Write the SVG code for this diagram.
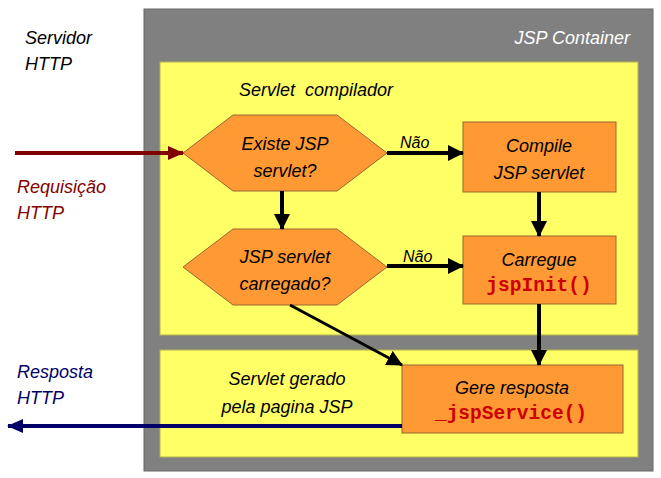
<svg xmlns="http://www.w3.org/2000/svg" width="661" height="478" viewBox="0 0 661 478">
<defs>
<style>
text{font-family:"Liberation Sans",Arial,sans-serif;font-style:italic;font-size:18px;fill:#000}
.mono{font-family:"Liberation Mono","Courier New",monospace;font-style:normal;font-weight:bold;font-size:19.5px;fill:#CC0000}
.c{text-anchor:middle}
.yel{fill:#FFFF66;stroke:#B3B34D;stroke-width:1}
.org{fill:#FF9933;stroke:#996633;stroke-width:1}
.k{stroke:#000;stroke-width:4;fill:none}
</style>
<marker id="ar" markerWidth="16" markerHeight="14" refX="15" refY="7" orient="auto" markerUnits="userSpaceOnUse"><path d="M0,0 L16,7 L0,14 Z" fill="#800000"/></marker>
<marker id="ab" markerWidth="16" markerHeight="14" refX="15" refY="7" orient="auto" markerUnits="userSpaceOnUse"><path d="M0,0 L16,7 L0,14 Z" fill="#000066"/></marker>
<marker id="a" markerWidth="16" markerHeight="16" refX="15" refY="8" orient="auto" markerUnits="userSpaceOnUse"><path d="M0,0 L16,8 L0,16 Z" fill="#000"/></marker>
</defs>
<g id="container">
<rect x="144" y="9" width="509" height="462" fill="#808080" stroke="#666" stroke-width="1"/>
<text x="630" y="44" text-anchor="end" style="fill:#fff">JSP Container</text>
</g>
<g id="compilador">
<rect class="yel" x="160" y="62" width="478" height="273"/>
<text x="239" y="96" xml:space="preserve" style="white-space:pre">Servlet  compilador</text>
</g>
<g id="gerado">
<rect class="yel" x="160" y="350" width="478" height="107"/>
<text class="c" x="287" y="385">Servlet gerado</text>
<text class="c" x="287" y="413">pela pagina JSP</text>
</g>
<g id="servidor">
<text x="25" y="44">Servidor</text>
<text x="25" y="70">HTTP</text>
</g>
<g id="existe">
<polygon class="org" points="183,153 233,115 337,115 387,153 337,191 233,191"/>
<text class="c" x="285" y="150">Existe JSP</text>
<text class="c" x="285" y="177">servlet?</text>
</g>
<g id="carregado">
<polygon class="org" points="183,267 233,229 337,229 387,267 337,305 233,305"/>
<text class="c" x="285" y="263">JSP servlet</text>
<text class="c" x="285" y="290">carregado?</text>
</g>
<g id="compile">
<rect class="org" x="463" y="122" width="153" height="70"/>
<text class="c" x="539" y="152">Compile</text>
<text class="c" x="539" y="179">JSP servlet</text>
</g>
<g id="carregue">
<rect class="org" x="463" y="236" width="153" height="68"/>
<text class="c" x="539" y="266">Carregue</text>
<text class="c mono" x="539" y="291">jspInit()</text>
</g>
<g id="gere">
<rect class="org" x="402" y="365" width="221" height="68"/>
<text class="c" x="512" y="394">Gere resposta</text>
<text class="c mono" x="511" y="419">_jspService()</text>
</g>
<g id="connectors">
<line x1="15" y1="153" x2="183" y2="153" stroke="#800000" stroke-width="4" marker-end="url(#ar)"/>
<line x1="402" y1="426" x2="8" y2="426" stroke="#000066" stroke-width="4" marker-end="url(#ab)"/>
<line class="k" x1="282" y1="191" x2="282" y2="229" marker-end="url(#a)"/>
<line class="k" x1="387" y1="153" x2="463" y2="153" marker-end="url(#a)"/>
<line class="k" x1="539" y1="192" x2="539" y2="236" marker-end="url(#a)"/>
<line class="k" x1="387" y1="266" x2="463" y2="266" marker-end="url(#a)"/>
<line class="k" x1="539" y1="304" x2="539" y2="365" marker-end="url(#a)"/>
<line x1="290" y1="305" x2="402" y2="365" stroke="#000" stroke-width="3" marker-end="url(#a)"/>
<text x="400" y="148" style="font-size:16px">Não</text>
<text x="403" y="262" style="font-size:16px">Não</text>
</g>
<g id="requisicao">
<text x="17" y="193" style="fill:#800000">Requisição</text>
<text x="17" y="219" style="fill:#800000">HTTP</text>
</g>
<g id="resposta">
<text x="17" y="378" style="fill:#000066">Resposta</text>
<text x="17" y="404" style="fill:#000066">HTTP</text>
</g>
</svg>
